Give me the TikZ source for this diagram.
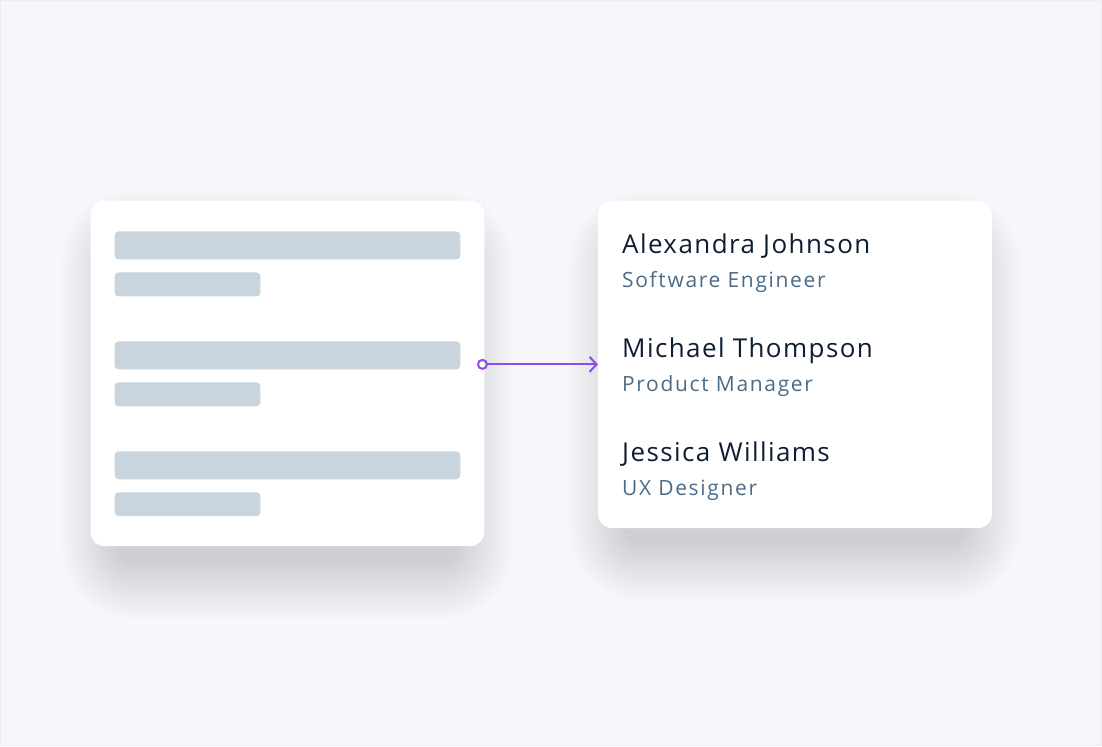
\documentclass[tikz,border=0pt]{standalone}
\usepackage{fontspec}
\setmainfont{Open Sans}
\newfontfamily\namefont[LetterSpace=5.5]{Open Sans}
\newfontfamily\rolefont[LetterSpace=8]{Open Sans}
\usetikzlibrary{arrows.meta}
\usetikzlibrary{positioning}
\definecolor{bgcol}{HTML}{F6F7FB}
\definecolor{framecol}{HTML}{ECEEF3}
\definecolor{barcol}{HTML}{C8D5DE}
\definecolor{namecol}{HTML}{0F1E33}
\definecolor{rolecol}{HTML}{4D6B85}
\definecolor{linkcol}{HTML}{9149E8}
\definecolor{shadecol}{HTML}{66686F}
\tikzstyle{card}=[rectangle,fill=white,rounded corners=14pt,inner sep=0pt,minimum width=394pt,anchor=north west]
\tikzstyle{bar}=[rectangle,fill=barcol,rounded corners=4pt,inner sep=0pt,anchor=north west]
\tikzstyle{person}=[anchor=base west,inner sep=0pt,text=namecol,font=\namefont\fontsize{26}{30}\selectfont]
\tikzstyle{role}=[anchor=base west,inner sep=0pt,text=rolecol,font=\rolefont\fontsize{21}{25}\selectfont]
\tikzstyle{link}=[linkcol,line width=2pt,{Circle[open,length=11pt,width=11pt]}-{Straight Barb[length=7pt,width=15pt]}]
% soft drop shadow under a card: left, top, right, bottom
\newcommand{\cardshadow}[4]{
  \foreach \s in {1.5,3,...,60}
    \fill[shadecol,fill opacity=0.0055,rounded corners=14pt+\s pt]
      (#1-\s+30,#2-\s+50) rectangle (#3+\s-30,#4+\s+14);
}

\begin{document}
\begin{tikzpicture}[x=1pt,y=-1pt]
    \fill[bgcol,draw=framecol,line width=1pt] (0,0) rectangle (1102,746);
    \useasboundingbox (0,0) rectangle (1102,746);

    % shadows first
    \cardshadow{90}{200}{484}{546}
    \cardshadow{598}{200}{992}{528}

    % left card with placeholder rows
    \node[card,minimum height=346pt] at (90,200) (src) {};
    \node[bar,minimum width=346pt,minimum height=28pt] at (114,231) (row1) {};
    \node[bar,minimum width=146pt,minimum height=24pt] at (114,272) (sub1) {};
    \node[bar,minimum width=346pt,minimum height=28pt] at (114,341) (row2) {};
    \node[bar,minimum width=146pt,minimum height=24pt] at (114,382) (sub2) {};
    \node[bar,minimum width=346pt,minimum height=28pt] at (114,451) (row3) {};
    \node[bar,minimum width=146pt,minimum height=24pt] at (114,492) (sub3) {};

    % right card with people
    \node[card,minimum height=328pt] at (598,200) (dst) {};
    \node[person] at (622,253) (p1) {Alexandra Johnson};
    \node[role] at (622,287) (r1) {Software Engineer};
    \node[person] at (622,357) (p2) {Michael Thompson};
    \node[role] at (622,391) (r2) {Product Manager};
    \node[person] at (622,461) (p3) {Jessica Williams};
    \node[role] at (622,495) (r3) {UX Designer};

    \draw[link,shorten <=-7.5pt] (src.east |- dst.west) -- (dst.west);
  \end{tikzpicture}
\end{document}
